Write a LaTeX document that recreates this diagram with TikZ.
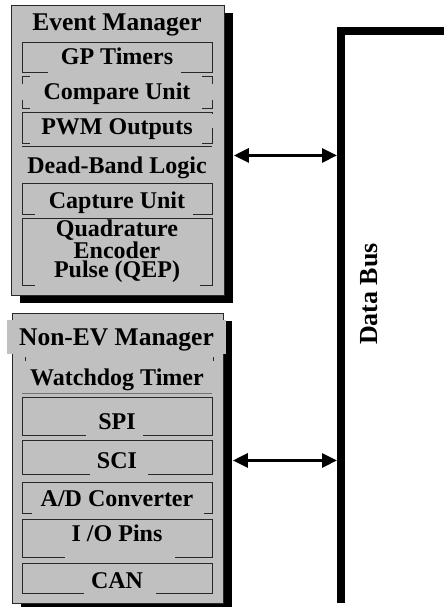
\documentclass[tikz,border=0pt]{standalone}
\usepackage{fontspec}
\setmainfont{Liberation Serif}
\usepackage{tikz}
\usetikzlibrary{arrows.meta, positioning, shadows}

\definecolor{silver}{RGB}{192,192,192}
\definecolor{edge}{RGB}{40,40,40}

\begin{document}
\begin{tikzpicture}[x=1pt, y=-1pt,
    panel/.style={rectangle, draw=edge, line width=0.9pt, fill=silver, anchor=north west,
        drop shadow={shadow xshift=8.5pt, shadow yshift=-8pt, fill=black, opacity=1}},
    unit/.style={rectangle, draw=edge, line width=0.9pt, minimum width=190pt},
    cover/.style={fill=silver},
    heading/.style={font=\bfseries\fontsize{25.5}{26}\selectfont, inner sep=0pt, text height=17pt, text depth=0pt},
    item/.style={font=\bfseries\fontsize{24}{19}\selectfont, inner sep=0pt, align=center, text height=16pt, text depth=0pt},
    link/.style={line width=3pt, {Triangle[length=15pt,width=14pt]}-{Triangle[length=15pt,width=14pt]}},
    bus/.style={line width=8pt, line join=miter}]
    \useasboundingbox (0,0) rectangle (444,607);

    % Event Manager
    \node[panel, minimum width=213pt, minimum height=290pt] (ev) at (11,5) {};
    \node[heading] (evtitle) at (117,22) {Event Manager};
    \node[unit, minimum height=30pt] (gp) at (117,57) {};
    \node[unit, minimum height=32pt] (cmp) at (117,92) {};
    \node[unit, minimum height=31pt] (pwm) at (117,127.5) {};
    \node[unit, minimum height=31pt] (cap) at (117,198.5) {};
    \node[unit, minimum height=67pt] (qep) at (117,251.5) {};
    % labels sit on grey patches that cut into the frames
    \fill[cover] (48,46) rectangle (181,76);
    \fill[cover] (30,74) rectangle (202,111);
    \fill[cover] (19,84) rectangle (215,100);
    \fill[cover] (30,116) rectangle (202,145.5);
    \fill[cover] (200,114) rectangle (215,128);
    \fill[cover] (35,186) rectangle (193,216.5);
    \fill[cover] (35,221) rectangle (200,288);
    \draw[edge, line width=0.9pt] (22,146.5) -- (212,146.5);
    \node[item] (gptext) at (gp) {GP Timers};
    \node[item] (cmptext) at (cmp) {Compare Unit};
    \node[item] (pwmtext) at (117,127) {PWM Outputs};
    \node[item] (dbtext) at (117,165) {Dead-Band Logic};
    \node[item] (captext) at (117,200) {Capture Unit};
    \node[item, text height=54pt] (qeptext) at (117,250) {Quadrature\\Encoder\\Pulse (QEP)};

    % Non-EV Manager
    \node[panel, minimum width=211pt, minimum height=290pt] (nev) at (12,313) {};
    \node[heading, fill=silver, minimum width=219pt, minimum height=34pt] (nevtitle) at (116.5,337) {Non-EV Manager};
    \draw[edge, line width=0.9pt] (25,357) -- (25,361) (213,357) -- (213,361);
    \node[item] (wdtext) at (117,377) {Watchdog Timer};
    \draw[black!55, line width=0.8pt] (22,393) -- (212,393);
    \node[unit, minimum height=38pt] (spi) at (117,416) {};
    \node[unit, minimum height=34pt] (sci) at (117,457) {};
    \node[unit, minimum height=31pt] (adc) at (117,497.5) {};
    \node[unit, minimum height=38pt] (io) at (117,538) {};
    \node[unit, minimum height=30pt] (can) at (117,578) {};
    \fill[cover] (86,405) rectangle (143,438);
    \fill[cover] (90,448) rectangle (148,477);
    \fill[cover] (32,490) rectangle (204,516);
    \fill[cover] (65,528) rectangle (175,560);
    \fill[cover] (84,570) rectangle (156,596);
    \node[item] (spitext) at (117,421) {SPI};
    \node[item] (scitext) at (117,460) {SCI};
    \node[item] (adctext) at (117,498) {A/D Converter};
    \node[item] (iotext) at (117,533) {I /O Pins};
    \node[item] (cantext) at (117,580) {CAN};

    % Data bus
    \coordinate (busend) at (444,31);
    \coordinate (buscorner) at (341,31);
    \coordinate (busfoot) at (341,603);
    \coordinate (busedge) at (337,31);
    \draw[bus] (busend) -- (buscorner) -- (busfoot);
    \node[heading, rotate=90, font=\bfseries\fontsize{26}{26}\selectfont] (buslabel) at (369,294) {Data Bus};

    % connections to the bus
    \coordinate (evport) at ([xshift=9pt, yshift=-5pt]ev.east);
    \coordinate (nevport) at ([xshift=9pt, yshift=-2pt]nev.east);
    \draw[link] (evport) -- (evport -| busedge);
    \draw[link] (nevport) -- (nevport -| busedge);
\end{tikzpicture}
\end{document}
